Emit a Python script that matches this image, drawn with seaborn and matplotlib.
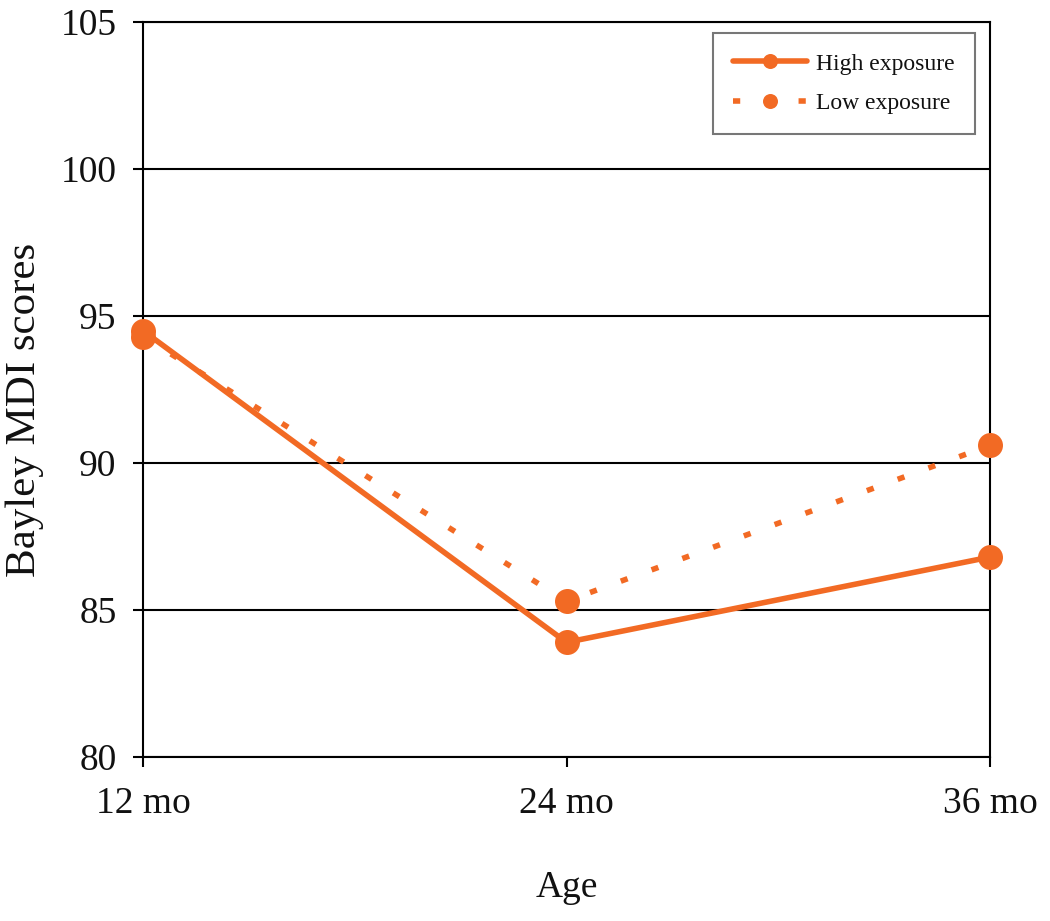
"""
Bayley MDI scores by age for high vs low exposure groups
"""

import numpy as np
import pandas as pd
import matplotlib
matplotlib.use('Agg')
import matplotlib.pyplot as plt
import seaborn as sns

# Data
ages = ['12 mo', '24 mo', '36 mo']
high_exposure = [94.5, 83.9, 86.8]
low_exposure = [94.3, 85.3, 90.6]
series_names = ['High exposure', 'Low exposure']
y_ticks = [80, 85, 90, 95, 100, 105]

ORANGE = '#F26A24'

sns.set_theme(style='white')
plt.rcParams['font.family'] = ['Liberation Serif', 'DejaVu Serif']

df = pd.DataFrame({
    'pos': list(range(len(ages))) * 2,
    'score': high_exposure + low_exposure,
    'group': [series_names[0]] * len(ages) + [series_names[1]] * len(ages),
})

fig = plt.figure(figsize=(10.5, 9.21), dpi=100)
ax = fig.add_axes([143 / 1050, 1 - 757 / 921, (990 - 143) / 1050, (757 - 22) / 921])

sns.lineplot(
    data=df, x='pos', y='score',
    hue='group', style='group',
    palette={series_names[0]: ORANGE, series_names[1]: ORANGE},
    dashes={series_names[0]: '', series_names[1]: (1.3, 4.6)},
    markers={series_names[0]: 'o', series_names[1]: 'o'},
    markersize=18, markeredgewidth=0, linewidth=4,
    ax=ax, clip_on=False, zorder=5,
)

ax.set_xlim(0, 2)
ax.set_ylim(80, 105)
ax.set_xticks(range(len(ages)))
ax.set_xticklabels(ages)
ax.set_yticks(y_ticks)

ax.yaxis.grid(True, color='black', linewidth=1.5)
ax.xaxis.grid(False)
ax.set_axisbelow(True)
for side in ['left', 'right', 'top', 'bottom']:
    ax.spines[side].set_visible(True)
    ax.spines[side].set_color('black')
    ax.spines[side].set_linewidth(1.5)

ax.tick_params(axis='both', which='major', direction='out', length=7, width=1.5,
               color='black', labelsize=27, labelcolor='#111111')
ax.tick_params(axis='y', left=True, pad=12)
ax.tick_params(axis='x', bottom=True, pad=14)

ax.set_xlabel('Age', fontsize=27, color='#111111', labelpad=36)
ax.set_ylabel('Bayley MDI scores', fontsize=31, color='#111111')
ax.yaxis.set_label_coords(-0.117, 0.472)

leg = ax.legend(
    loc='upper right', bbox_to_anchor=(0.982, 0.985), borderaxespad=0,
    fontsize=17, frameon=True, fancybox=False, markerscale=0.6,
    handlelength=3.1, borderpad=0.85, labelspacing=0.75, handletextpad=0.4,
)
leg.get_frame().set_edgecolor('#555555')
leg.get_frame().set_linewidth(1.5)
for text in leg.get_texts():
    text.set_color('#111111')

plt.savefig('out.png', dpi=100)
plt.close()
